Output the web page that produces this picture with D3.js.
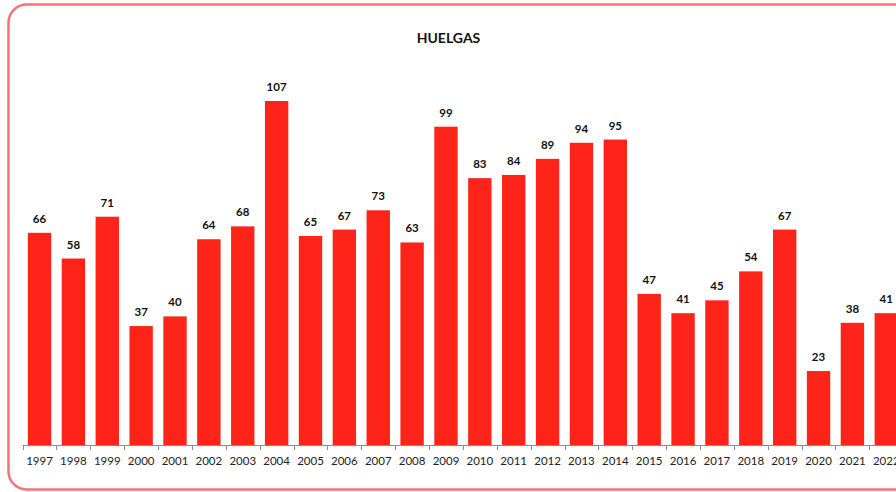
<!DOCTYPE html>
<html><head><meta charset="utf-8">
<script src="https://cdn.jsdelivr.net/npm/d3@7/dist/d3.min.js"></script>
<style>body{margin:0;background:#fff;overflow:hidden}</style>
</head><body>
<script>
const years = ["1997","1998","1999","2000","2001","2002","2003","2004","2005","2006","2007","2008","2009","2010","2011","2012","2013","2014","2015","2016","2017","2018","2019","2020","2021","2022"];
const huelgas = [66,58,71,37,40,64,68,107,65,67,73,63,99,83,84,89,94,95,47,41,45,54,67,23,38,41];
const title = "HUELGAS";

const W = 896, H = 492;
const svg = d3.select("body").append("svg").attr("width", W).attr("height", H);

svg.append("rect").attr("x", 8.5).attr("y", 4.5).attr("width", 930).attr("height", 485)
  .attr("rx", 18).attr("ry", 18).attr("fill", "#fff").attr("stroke", "#f7727a").attr("stroke-width", 2.5);

const x0 = 22.6, step = 33.87;
const x = d3.scaleBand().domain(years).range([x0, x0 + step * years.length]).paddingInner(0.31).paddingOuter(0.155);
const y = d3.scaleLinear().domain([0, 120]).range([445, 445 - 120 * 3.215]);

svg.append("text").attr("x", 448.5).attr("y", 43).attr("text-anchor", "middle")
  .attr("font-family", "Lato, 'Open Sans', sans-serif").attr("font-weight", "bold").attr("font-size", 14)
  .attr("fill", "#111").text(title);

svg.selectAll("rect.bar").data(huelgas).join("rect").attr("class", "bar")
  .attr("x", (d, i) => x(years[i])).attr("width", x.bandwidth())
  .attr("y", d => y(d)).attr("height", d => y(0) - y(d)).attr("fill", "#fe2419");

svg.selectAll("text.lbl").data(huelgas).join("text").attr("class", "lbl")
  .attr("x", (d, i) => x(years[i]) + x.bandwidth() / 2).attr("y", d => y(d) - 10)
  .attr("text-anchor", "middle").attr("font-family", "Lato, 'Open Sans', sans-serif")
  .attr("font-weight", "bold").attr("font-size", 11.5).attr("fill", "#111").text(d => d);

const axisG = svg.append("g").attr("transform", "translate(0,445)");
const xScaleTicks = d3.scaleBand().domain(years).range([x0, x0 + step * years.length]);
axisG.append("line").attr("x1", x0).attr("x2", x0 + step * years.length).attr("y1", 0.5).attr("y2", 0.5)
  .attr("stroke", "#8c8c8c").attr("stroke-width", 1);
axisG.selectAll("line.tk").data(years.concat(["end"])).join("line").attr("class", "tk")
  .attr("x1", (d, i) => Math.round(x0 + i * step) + 0.5).attr("x2", (d, i) => Math.round(x0 + i * step) + 0.5)
  .attr("y1", 0).attr("y2", 5).attr("stroke", "#8c8c8c");
axisG.selectAll("text.yr").data(years).join("text").attr("class", "yr")
  .attr("x", d => xScaleTicks(d) + xScaleTicks.bandwidth() / 2).attr("y", 20)
  .attr("text-anchor", "middle").attr("font-family", "Lato, 'Open Sans', sans-serif")
  .attr("font-size", 11.5).attr("fill", "#222").text(d => d);
</script>
</body></html>
